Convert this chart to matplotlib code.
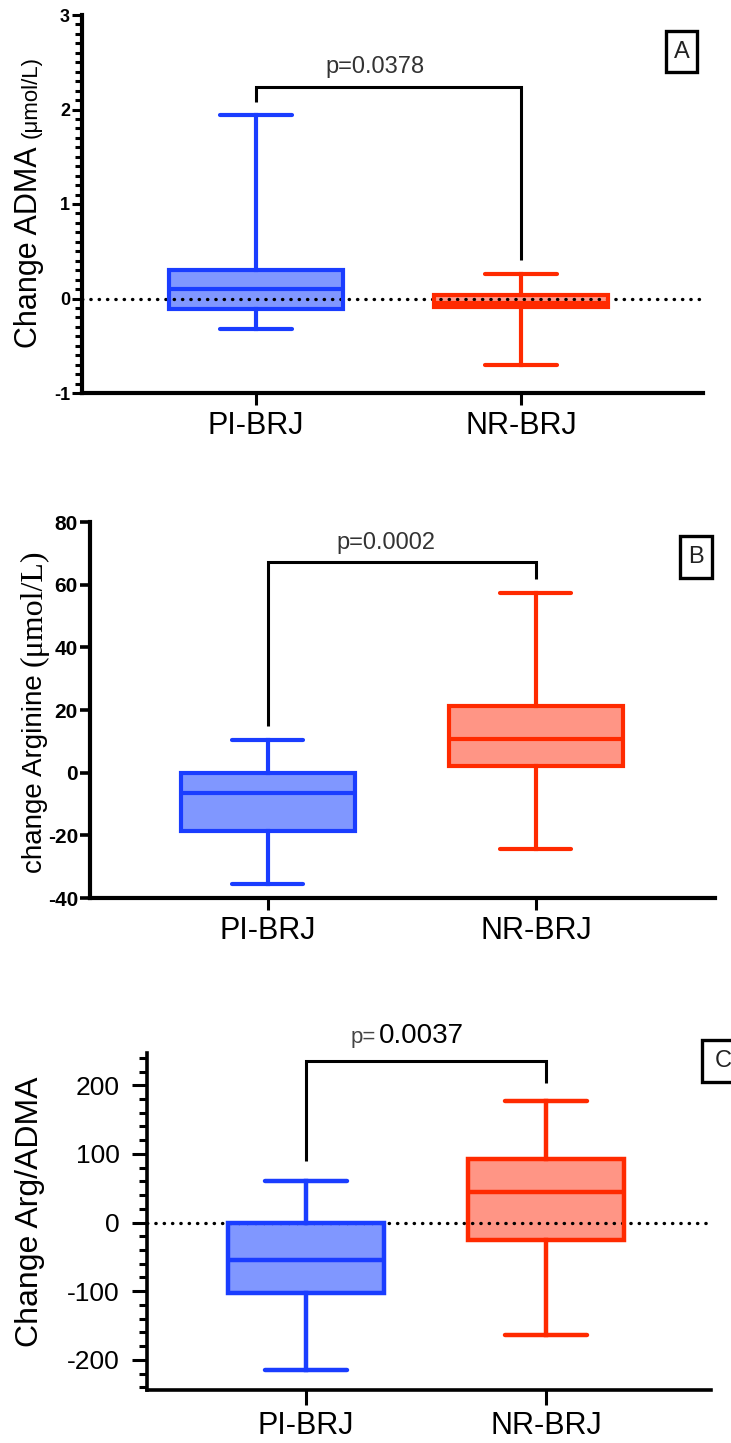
import matplotlib
matplotlib.use("Agg")
import matplotlib.pyplot as plt
from matplotlib.patches import Rectangle
from matplotlib.ticker import MultipleLocator

plt.rcParams["axes.unicode_minus"] = False

# ---------------------------------------------------------------- data
groups = ["PI-BRJ", "NR-BRJ"]

# Panel A: change in ADMA (umol/L)
adma_min = [-0.32, -0.70]
adma_q1 = [-0.11, -0.09]
adma_med = [0.10, -0.05]
adma_q3 = [0.30, 0.04]
adma_max = [1.94, 0.26]
adma_p = "p=0.0378"

# Panel B: change in arginine (umol/L)
arg_min = [-35.5, -24.5]
arg_q1 = [-18.5, 2.2]
arg_med = [-6.5, 10.7]
arg_q3 = [0.0, 21.2]
arg_max = [10.5, 57.5]
arg_p = "p=0.0002"

# Panel C: change in Arg/ADMA ratio
ratio_min = [-215, -164]
ratio_q1 = [-103, -26]
ratio_med = [-54, 44]
ratio_q3 = [0, 92]
ratio_max = [60, 177]
ratio_p = "0.0037"

# ---------------------------------------------------------------- style
EDGE = ["#1a3dff", "#ff2a00"]
FILL = ["#8097ff", "#ff9585"]
SANS = "Liberation Sans"
SERIF = "Liberation Serif"
W, H = 731, 1443
PX = 0.72  # points per pixel at 100 dpi

fig = plt.figure(figsize=(W / 100, H / 100), dpi=100)


def rect(left, top, right, bottom):
    return [left / W, 1 - bottom / H, (right - left) / W, (bottom - top) / H]


def fx(x):
    return x / W


def fy(y):
    return 1 - y / H


def stats(lo, q1, med, q3, hi):
    return [dict(whislo=lo[i], q1=q1[i], med=med[i], q3=q3[i], whishi=hi[i],
                 label=groups[i]) for i in range(len(groups))]


def draw_boxes(ax, st, width, capwidth, lw):
    for i, s in enumerate(st):
        # fill underneath the reference line
        ax.bxp([s], positions=[i + 1], widths=width, capwidths=capwidth,
               patch_artist=True, showfliers=False, manage_ticks=False,
               boxprops=dict(facecolor=FILL[i], edgecolor="none", linewidth=0),
               whiskerprops=dict(visible=False), capprops=dict(visible=False),
               medianprops=dict(visible=False), zorder=1)
        # outlines, whiskers and caps on top
        ax.bxp([s], positions=[i + 1], widths=width, capwidths=capwidth,
               patch_artist=True, showfliers=False, manage_ticks=False,
               boxprops=dict(facecolor="none", edgecolor=EDGE[i], linewidth=lw),
               whiskerprops=dict(color=EDGE[i], linewidth=lw),
               capprops=dict(color=EDGE[i], linewidth=lw, solid_capstyle="round"),
               medianprops=dict(color=EDGE[i], linewidth=lw), zorder=3)


def style_axes(ax, spine_lw, tick_w):
    for side in ("top", "right"):
        ax.spines[side].set_visible(False)
    for side in ("left", "bottom"):
        ax.spines[side].set_linewidth(spine_lw)
        ax.spines[side].set_capstyle("projecting")
    ax.set_xticks([1, 2])
    ax.set_xticklabels(groups, fontsize=22, family=SANS)
    ax.tick_params(axis="x", length=12 * PX, width=tick_w, pad=4)


def ytick_font(ax, size, weight):
    ax.tick_params(axis="y", which="major", labelsize=size)
    plt.setp(ax.get_yticklabels(), fontsize=size, fontweight=weight, family=SANS)


def bracket(ax, left_lo, top, right_lo, lw=2.2):
    ax.plot([1, 1, 2, 2], [left_lo, top, top, right_lo], color="black", lw=lw,
            clip_on=False, solid_joinstyle="miter", solid_capstyle="butt", zorder=4)


def zero_line(ax):
    ax.axhline(0, color="black", lw=2.4, linestyle=(0, (0.1, 2.4)),
               dash_capstyle="round", zorder=2)


def panel_tag(letter, left, top, right, bottom, size=17):
    fig.add_artist(Rectangle((fx(left), fy(bottom)), fx(right) - fx(left),
                             fy(top) - fy(bottom), transform=fig.transFigure,
                             facecolor="white", edgecolor="black", lw=2.4,
                             clip_on=False))
    fig.text(fx((left + right) / 2), fy((top + bottom) / 2), letter,
             ha="center", va="center", fontsize=size, family=SANS, color="#222222")


def stacked_ylabel(ax, x_px, y_px, parts, gap=6):
    prev = None
    for text, kw in parts:
        if prev is None:
            prev = fig.text(fx(x_px), fy(y_px), text, rotation=90,
                            rotation_mode="anchor", ha="left", va="baseline", **kw)
        else:
            prev = ax.annotate(text, xy=(fx(x_px), 1.0),
                               xycoords=("figure fraction", prev),
                               xytext=(0, gap), textcoords="offset points",
                               rotation=90, rotation_mode="anchor",
                               ha="left", va="baseline",
                               annotation_clip=False, **kw)


# ---------------------------------------------------------------- panel A
axA = fig.add_axes(rect(82, 15, 703, 393))
axA.set_xlim(0.343, 2.687)
axA.set_ylim(-1, 3)
zero_line(axA)
draw_boxes(axA, stats(adma_min, adma_q1, adma_med, adma_q3, adma_max),
           0.657, 0.27, 3.0)
style_axes(axA, 3.0, 2.2)
axA.yaxis.set_major_locator(MultipleLocator(1))
axA.yaxis.set_minor_locator(MultipleLocator(0.1))
axA.tick_params(axis="y", which="major", length=10 * PX, width=2.2, pad=1.5)
axA.tick_params(axis="y", which="minor", length=7 * PX, width=2.2)
ytick_font(axA, 13, "bold")
bracket(axA, 2.08, 2.24, 0.41)
axA.text(1.45, 2.45, adma_p, ha="center", va="center", fontsize=17,
         family=SANS, color="#333333")
panel_tag("A", 666, 31, 697, 72)
stacked_ylabel(axA, 37, 348, [
    ("Change ADMA", dict(fontsize=22, family=SANS)),
    ("(μmol/L)", dict(fontsize=16, family=SANS)),
])

# ---------------------------------------------------------------- panel B
axB = fig.add_axes(rect(90, 522, 715, 898))
axB.set_xlim(0.336, 2.668)
axB.set_ylim(-40, 80)
draw_boxes(axB, stats(arg_min, arg_q1, arg_med, arg_q3, arg_max),
           0.65, 0.265, 3.0)
style_axes(axB, 3.0, 2.2)
axB.yaxis.set_major_locator(MultipleLocator(20))
axB.tick_params(axis="y", which="major", length=10 * PX, width=2.6, pad=1.5)
ytick_font(axB, 15, "bold")
bracket(axB, 14.8, 67.3, 61.9)
axB.text(1.44, 73.3, arg_p, ha="center", va="center", fontsize=17,
         family=SANS, color="#333333")
panel_tag("B", 680, 536, 712, 578)
stacked_ylabel(axB, 42, 873, [
    ("change Arginine", dict(fontsize=20, family=SANS)),
    ("(μmol/L)", dict(fontsize=23, family=SERIF)),
])

# ---------------------------------------------------------------- panel C
axC = fig.add_axes(rect(147, 1053, 711, 1390))
axC.set_xlim(0.3375, 2.6875)
axC.set_ylim(-244, 247)
zero_line(axC)
draw_boxes(axC, stats(ratio_min, ratio_q1, ratio_med, ratio_q3, ratio_max),
           0.65, 0.345, 3.2)
style_axes(axC, 2.6, 2.2)
axC.yaxis.set_major_locator(MultipleLocator(100))
axC.yaxis.set_minor_locator(MultipleLocator(20))
axC.tick_params(axis="y", which="major", length=15 * PX, width=2.2, pad=9)
axC.tick_params(axis="y", which="minor", length=8 * PX, width=2.2)
ytick_font(axC, 19, "normal")
axC.tick_params(axis="x", length=15 * PX)
bracket(axC, 89, 235, 204)
axC.text(1.29, 261, "p=", ha="right", va="baseline", fontsize=16,
         family=SANS, color="#444444", clip_on=False)
axC.text(1.305, 261, ratio_p, ha="left", va="baseline", fontsize=20,
         family=SANS, color="black", clip_on=False)
panel_tag("C", 702, 1040, 745, 1082)
stacked_ylabel(axC, 38, 1347, [
    ("Change Arg/ADMA", dict(fontsize=23, family=SANS)),
])

fig.savefig("out.png", dpi=100)
